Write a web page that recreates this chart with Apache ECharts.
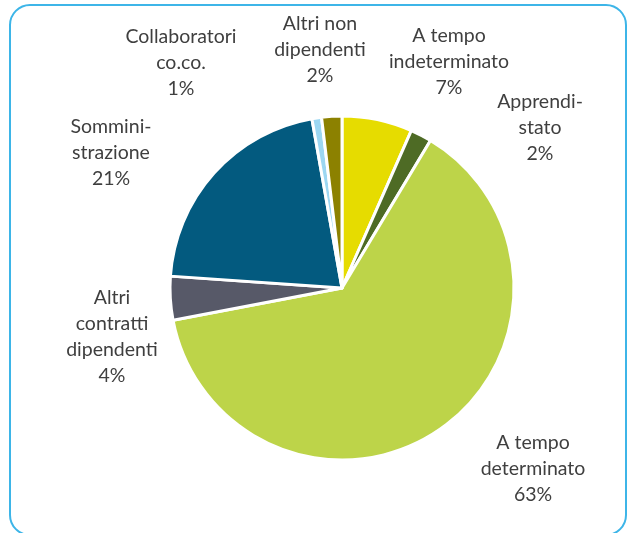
<!DOCTYPE html>
<html><head><meta charset="utf-8">
<script src="https://cdn.jsdelivr.net/npm/echarts@6/dist/echarts.min.js"></script>
<style>html,body{margin:0;padding:0;background:#fff}#c{width:629px;height:533px}</style>
</head><body><div id="c"></div>
<script>
var categories = ['A tempo\nindeterminato','Apprendi-\nstato','A tempo\ndeterminato','Altri\ncontratti\ndipendenti','Sommini-\nstrazione','Collaboratori\nco.co.','Altri non\ndipendenti'];
var values = [6.6, 2.0, 63.4, 4.1, 21.1, 0.9, 1.9];
var pctLabels = ['7%','2%','63%','4%','21%','1%','2%'];
var colors = ['#E6DC00','#4E6B25','#BDD449','#575968','#035A7F','#9CD7F2','#8C8100'];
var labelPos = [[449,62],[540,128],[533,469],[112,337],[111,153],[181,63],[320,50]];

var chart = echarts.init(document.getElementById('c'));
chart.setOption({
  animation:false,
  graphic:[{type:'rect',shape:{x:10,y:5,width:616,height:530,r:20},style:{fill:'none',stroke:'#3DB5E8',lineWidth:2}}],
  series:[{
    type:'pie',
    center:[342,288],
    radius:[0,172],
    startAngle:90,
    clockwise:true,
    data:categories.map(function(c,i){return {name:c,value:values[i],itemStyle:{color:colors[i]}};}),
    itemStyle:{borderColor:'#fff',borderWidth:3},
    label:{show:true,position:'outside',color:'#3F3F3F',fontFamily:'Lato',fontSize:19.5,lineHeight:26,align:'center',
      formatter:function(p){return p.name+'\n'+pctLabels[p.dataIndex];}},
    labelLine:{show:false},
    labelLayout:function(p){var q=labelPos[p.dataIndex];return {x:q[0],y:q[1],align:'center',verticalAlign:'middle'};}
  }]
});
</script></body></html>
